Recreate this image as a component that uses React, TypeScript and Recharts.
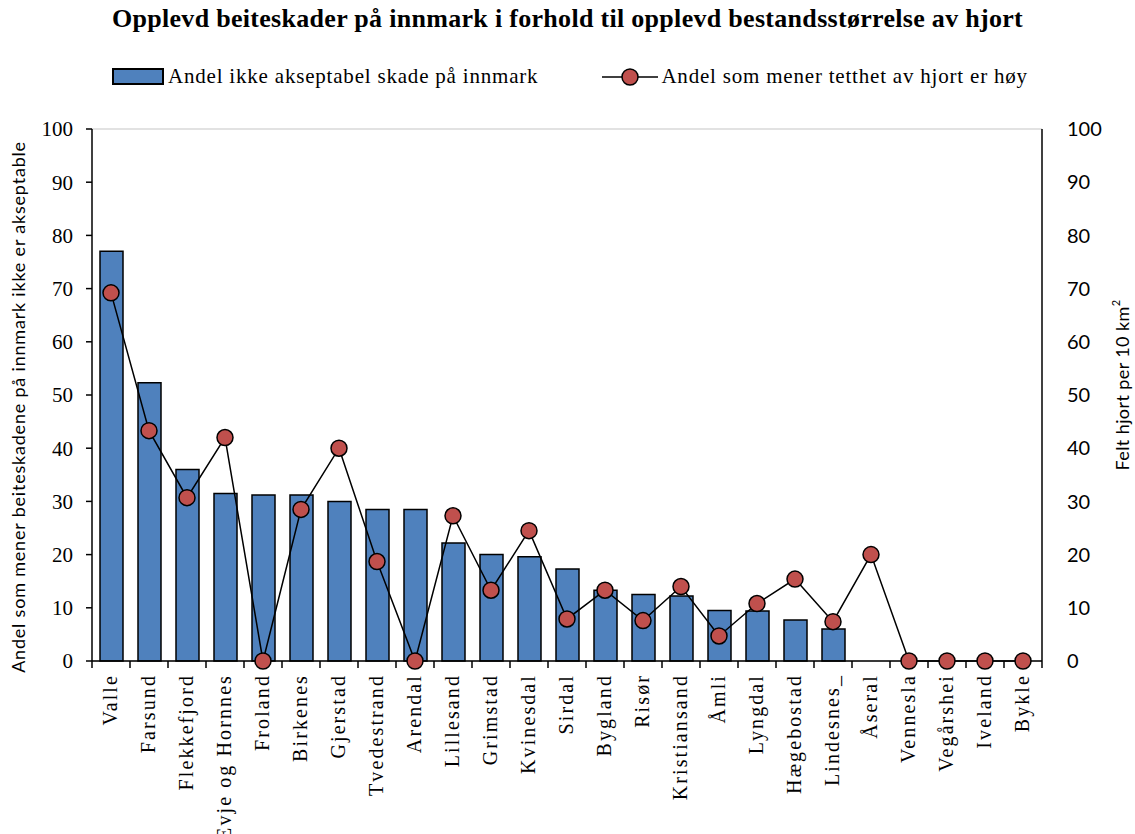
import React from 'react';
import {
  ComposedChart,
  Bar,
  Line,
  XAxis,
  YAxis,
  CartesianGrid,
} from 'recharts';

// Kommuner, sortert etter andel som mener skadene ikke er akseptable
const kommuner = [
  'Valle', 'Farsund', 'Flekkefjord', 'Evje og Hornnes', 'Froland', 'Birkenes',
  'Gjerstad', 'Tvedestrand', 'Arendal', 'Lillesand', 'Grimstad', 'Kvinesdal',
  'Sirdal', 'Bygland', 'Risør', 'Kristiansand', 'Åmli', 'Lyngdal',
  'Hægebostad', 'Lindesnes_', 'Åseral', 'Vennesla', 'Vegårshei', 'Iveland', 'Bykle',
];

// Andel ikke akseptabel skade på innmark (%)
const skadeAndel = [
  77, 52.3, 36, 31.5, 31.2, 31.2,
  30, 28.5, 28.5, 22.2, 20, 19.6,
  17.3, 13.3, 12.5, 12.2, 9.5, 9.4,
  7.7, 6.0, 0, 0, 0, 0, 0,
];

// Andel som mener tettheten av hjort er høy (%)
const tetthetHoy = [
  69.2, 43.3, 30.7, 42, 0, 28.5,
  40, 18.7, 0, 27.3, 13.3, 24.5,
  7.9, 13.3, 7.6, 14, 4.7, 10.8,
  15.4, 7.4, 20, 0, 0, 0, 0,
];

const yTicks = [0, 10, 20, 30, 40, 50, 60, 70, 80, 90, 100];

const data = kommuner.map((navn, i) => ({
  navn,
  skade: skadeAndel[i],
  tetthet: tetthetHoy[i],
}));

const SERIF = '"Liberation Serif", "DejaVu Serif", serif';
const SANS = 'Lato, "Open Sans", "Noto Sans", sans-serif';
const BAR_FILL = '#4F81BD';
const DOT_FILL = '#C0504D';

const W = 1135;
const H = 834;
const PLOT_LEFT = 92;
const PLOT_RIGHT = 1042;
const BAND = (PLOT_RIGHT - PLOT_LEFT) / kommuner.length;

const CategoryTick = (props: any) => {
  const { x, y, payload, index } = props;
  const last = index === kommuner.length - 1;
  return (
    <g>
      <line x1={x - BAND / 2} y1={y - 8} x2={x - BAND / 2} y2={y - 1} stroke="#000" strokeWidth={1.5} />
      {last && (
        <line x1={x + BAND / 2} y1={y - 8} x2={x + BAND / 2} y2={y - 1} stroke="#000" strokeWidth={1.5} />
      )}
      <text
        x={0}
        y={0}
        transform={`translate(${x + 6},${y + 5}) rotate(-90)`}
        textAnchor="end"
        fontFamily={SERIF}
        fontSize={20}
        letterSpacing={2.1}
        fill="#000"
      >
        {payload.value}
      </text>
    </g>
  );
};

const LeftTitle = (props: any) => {
  const { viewBox } = props;
  const cx = viewBox.x - 14;
  const cy = 407;
  return (
    <text
      x={cx}
      y={cy}
      transform={`rotate(-90, ${cx}, ${cy})`}
      textAnchor="middle"
      dominantBaseline="central"
      fontFamily={SANS}
      fontSize={18}
      letterSpacing={0.8}
      fill="#000"
    >
      Andel som mener beiteskadene på innmark ikke er akseptable
    </text>
  );
};

const RightTitle = (props: any) => {
  const { viewBox } = props;
  const cx = viewBox.x + viewBox.width + 20;
  const cy = 385;
  return (
    <text
      x={cx}
      y={cy}
      transform={`rotate(-90, ${cx}, ${cy})`}
      textAnchor="middle"
      dominantBaseline="central"
      fontFamily={SANS}
      fontSize={18}
      letterSpacing={0.4}
      fill="#000"
    >
      Felt hjort per 10 km
      <tspan fontSize={11} dy={-7}>2</tspan>
    </text>
  );
};

const TetthetDot = (props: any) => {
  const { cx, cy } = props;
  if (cx == null || cy == null) return null;
  return <circle cx={cx} cy={cy} r={8} fill={DOT_FILL} stroke="#000" strokeWidth={1.5} />;
};

export default function App() {
  return (
    <div style={{ position: 'absolute', left: 0, top: 0, width: W, height: H, background: '#fff' }}>
      <div
        style={{
          position: 'absolute',
          left: 0,
          top: 4,
          width: W,
          textAlign: 'center',
          fontFamily: SERIF,
          fontWeight: 'bold',
          fontSize: 26,
          letterSpacing: 0.3,
          color: '#000',
          whiteSpace: 'nowrap',
        }}
      >
        Opplevd beiteskader på innmark i forhold til opplevd bestandsstørrelse av hjort
      </div>

      <div
        style={{
          position: 'absolute',
          left: 112,
          top: 64,
          display: 'flex',
          alignItems: 'center',
          fontFamily: SERIF,
          fontSize: 21,
          letterSpacing: 0.8,
          color: '#000',
          whiteSpace: 'nowrap',
        }}
      >
        <span
          style={{
            display: 'inline-block',
            width: 48,
            height: 13,
            background: BAR_FILL,
            border: '2px solid #000',
            marginRight: 4,
          }}
        />
        <span>Andel ikke akseptabel skade på innmark</span>
        <svg width={56} height={20} style={{ marginLeft: 64, marginRight: 3 }}>
          <line x1={0} y1={10} x2={56} y2={10} stroke="#000" strokeWidth={1.5} />
          <circle cx={28} cy={10} r={8} fill={DOT_FILL} stroke="#000" strokeWidth={1.5} />
        </svg>
        <span>Andel som mener tetthet av hjort er høy</span>
      </div>

      <ComposedChart
        width={W}
        height={H}
        data={data}
        margin={{ top: 129, right: 33, left: 32, bottom: 23 }}
        style={{ position: 'absolute', left: 0, top: 0 }}
      >
        <CartesianGrid vertical={false} stroke="#d9d9d9" strokeWidth={1.5} />
        <XAxis
          dataKey="navn"
          xAxisId={0}
          height={150}
          interval={0}
          tickLine={false}
          axisLine={{ stroke: '#000', strokeWidth: 1.5 }}
          tick={<CategoryTick />}
        />
        <YAxis
          yAxisId="left"
          orientation="left"
          width={60}
          domain={[0, 100]}
          ticks={yTicks}
          interval={0}
          axisLine={{ stroke: '#000', strokeWidth: 1.5 }}
          tickLine={{ stroke: '#000', strokeWidth: 1.5 }}
          tickSize={6}
          tickMargin={13}
          tick={{ fontFamily: SERIF, fontSize: 21, fill: '#000' }}
          label={<LeftTitle />}
        />
        <YAxis
          yAxisId="right"
          orientation="right"
          width={60}
          domain={[0, 100]}
          ticks={yTicks}
          interval={0}
          axisLine={{ stroke: '#000', strokeWidth: 1.5 }}
          tickLine={false}
          tickMargin={19}
          tick={{ fontFamily: SANS, fontSize: 20, fill: '#000' }}
          label={<RightTitle />}
        />
        <Bar
          yAxisId="left"
          dataKey="skade"
          fill={BAR_FILL}
          stroke="#000"
          strokeWidth={1.5}
          barSize={23}
          isAnimationActive={false}
        />
        <Line
          yAxisId="right"
          dataKey="tetthet"
          type="linear"
          stroke="#000"
          strokeWidth={1.5}
          dot={<TetthetDot />}
          activeDot={false}
          isAnimationActive={false}
        />
      </ComposedChart>
    </div>
  );
}
